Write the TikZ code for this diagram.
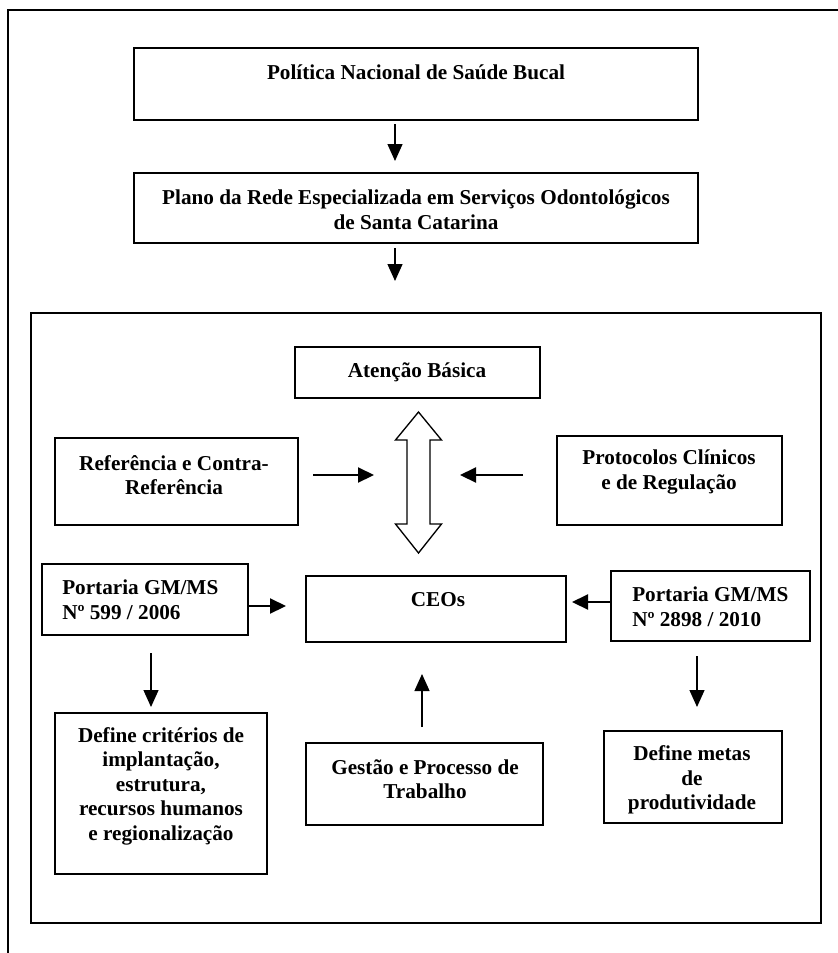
\documentclass[tikz,border=0pt]{standalone}
\usepackage{fontspec}
\setmainfont{Liberation Serif}
\usetikzlibrary{arrows.meta,fit,calc}

\begin{document}
\begin{tikzpicture}[x=0.75pt, y=-0.75pt,
	kasten/.style={draw=black, line width=1.5pt, inner sep=0pt},
	schrift/.style={font=\bfseries\fontsize{15.9}{18.4}\selectfont, align=center, inner sep=0pt},
	pfeil/.style={-{Triangle[length=12.75pt, width=11.25pt]}, line width=1pt},
	dickpfeil/.style={-{Triangle[length=12pt, width=11.25pt]}, line width=1.6pt}]
	\useasboundingbox (0,0) rectangle (838,953);

	% Rahmen
	\draw[line width=1.2pt] (8,953) -- (8,10) -- (838,10);
	\node[kasten, fit={(31,313) (821,923)}] (quadro) {};

	% Kaesten oben
	\node[kasten, fit={(134,48) (698,120)}] (pnsb) {};
	\node[schrift] (pnsbtxt) at (416,72) {Política Nacional de Saúde Bucal};
	\node[kasten, fit={(134,173) (698,243)}] (plano) {};
	\node[schrift] (planotxt) at (416,210)
		{Plano da Rede Especializada em Serviços Odontológicos\\de Santa Catarina};

	% Kaesten innen
	\node[kasten, fit={(295,347) (540,398)}] (atencao) {};
	\node[schrift] (atencaotxt) at (417,372) {Atenção Básica};
	\node[kasten, fit={(55,438) (298,525)}] (ref) {};
	\node[schrift] (reftxt) at (174,475) {Referência e Contra-\\Referência};
	\node[kasten, fit={(557,436) (782,525)}] (prot) {};
	\node[schrift] (prottxt) at (669,472) {Protocolos Clínicos\\e de Regulação};
	\node[kasten, fit={(42,564) (248,635)}] (port599) {};
	\node[schrift, align=left, anchor=west] (port599txt) at (62,600)
		{Portaria GM/MS\\Nº 599 / 2006};
	\node[kasten, fit={(306,576) (566,642)}] (ceos) {};
	\node[schrift] (ceostxt) at (438,600) {CEOs};
	\node[kasten, fit={(611,571) (810,641)}] (port2898) {};
	\node[schrift, align=left, anchor=west] (port2898txt) at (632,607)
		{Portaria GM/MS\\Nº 2898 / 2010};
	\node[kasten, fit={(55,713) (267,874)}] (criterios) {};
	\node[schrift] (criteriostxt) at (161,786)
		{Define critérios de\\implantação,\\estrutura,\\recursos humanos\\e regionalização};
	\node[kasten, fit={(306,743) (543,825)}] (gestao) {};
	\node[schrift] (gestaotxt) at (425,779) {Gestão e Processo de\\Trabalho};
	\node[kasten, fit={(604,731) (782,823)}] (metas) {};
	\node[schrift] (metastxt) at (692,780) {Define metas\\de\\produtividade};

	% Doppelpfeil
	\draw[line width=1pt, fill=white] (418.5,412) -- (441.5,440) -- (430,440)
		-- (430,524) -- (441.5,524) -- (418.5,553) -- (395.5,524) -- (407,524)
		-- (407,440) -- (395.5,440) -- cycle;
	\coordinate (refende) at (374,475);
	\coordinate (protende) at (460,475);

	% Pfeile
	\draw[pfeil] ($(pnsb.south)+(-21,3)$) -- ($(plano.north)+(-21,-11)$);
	\draw[pfeil] ($(plano.south)+(-21,4)$) -- ($(plano.south |- quadro.north)+(-21,-31)$);
	\draw[dickpfeil] ($(ref.east |- refende)+(14,0)$) -- (refende);
	\draw[dickpfeil] ($(prot.west |- protende)+(-33,0)$) -- (protende);
	\draw[dickpfeil] ($(port599.east)+(0,6.5)$) -- ($(ceos.west |- port599.east)+(-19,6.5)$);
	\draw[dickpfeil] ($(port2898.west)+(0,-4)$) -- ($(ceos.east |- port2898.west)+(5,-4)$);
	\draw[pfeil] ($(port599.south)+(6,17)$) -- ($(port599.south |- criterios.north)+(6,-5)$);
	\draw[pfeil] ($(gestao.north)+(-2.5,-15)$) -- ($(gestao.north |- ceos.south)+(-2.5,31)$);
	\draw[pfeil] ($(port2898.south)+(-13.5,14)$) -- ($(port2898.south |- metas.north)+(-13.5,-23)$);
\end{tikzpicture}
\end{document}
